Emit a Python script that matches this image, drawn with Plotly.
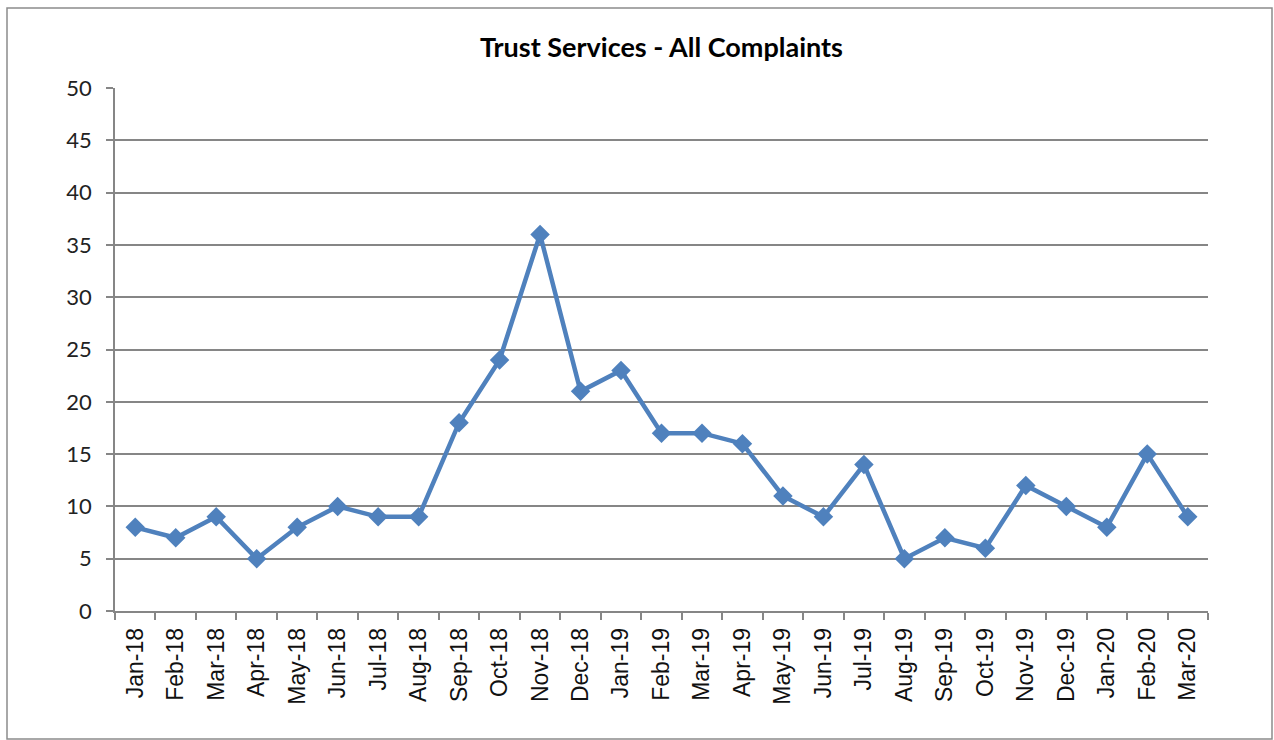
import plotly.graph_objects as go

months = ["Jan-18", "Feb-18", "Mar-18", "Apr-18", "May-18", "Jun-18", "Jul-18", "Aug-18",
          "Sep-18", "Oct-18", "Nov-18", "Dec-18", "Jan-19", "Feb-19", "Mar-19", "Apr-19",
          "May-19", "Jun-19", "Jul-19", "Aug-19", "Sep-19", "Oct-19", "Nov-19", "Dec-19",
          "Jan-20", "Feb-20", "Mar-20"]
complaints = [8, 7, 9, 5, 8, 10, 9, 9, 18, 24, 36, 21, 23, 17, 17, 16,
              11, 9, 14, 5, 7, 6, 12, 10, 8, 15, 9]
y_ticks = [0, 5, 10, 15, 20, 25, 30, 35, 40, 45, 50]

W, H = 1274, 740
L, R, T, B = 115, 66, 88, 129
pw, ph = W - L - R, H - T - B

def px_x(x):
    return (x - L) / pw

def px_y(y):
    return (H - B - y) / ph

fig = go.Figure()
fig.add_trace(go.Scatter(
    x=months, y=complaints, mode="lines+markers",
    line=dict(color="#4F81BD", width=4.5),
    marker=dict(symbol="diamond", size=15, color="#4F81BD"),
    showlegend=False,
))

fig.update_layout(
    width=W, height=H,
    margin=dict(l=L, r=R, t=T, b=B),
    paper_bgcolor="white", plot_bgcolor="white",
    title=dict(text="<b>Trust Services - All Complaints</b>",
               font=dict(family="Lato", size=27, color="black"),
               x=0.5, xref="paper", xanchor="center",
               y=1 - 48 / H, yref="container", yanchor="middle"),
    xaxis=dict(
        type="category", tickson="boundaries", ticks="outside", ticklen=7,
        tickcolor="#868686", tickwidth=1.5,
        showline=True, linecolor="#868686", linewidth=1.5,
        showgrid=False, tickangle=-90, ticklabelstandoff=6,
        tickfont=dict(family="Liberation Sans", size=23, color="#111111"),
        range=[-0.5, len(months) - 0.5], fixedrange=True,
    ),
    yaxis=dict(
        range=[0, 50], tickvals=y_ticks, ticks="outside", ticklen=7,
        tickcolor="#868686", tickwidth=1.5,
        showline=True, linecolor="#868686", linewidth=1.5,
        showgrid=True, gridcolor="#868686", gridwidth=1.5,
        zeroline=False, ticklabelstandoff=10,
        tickfont=dict(family="Lato", size=22, color="#222222"),
        fixedrange=True,
    ),
    shapes=[dict(type="rect", xref="paper", yref="paper",
                 x0=px_x(7), x1=px_x(1272), y0=px_y(739), y1=px_y(8),
                 line=dict(color="#8c8c8c", width=1.5), layer="below")],
)

fig.write_html("out.html")
